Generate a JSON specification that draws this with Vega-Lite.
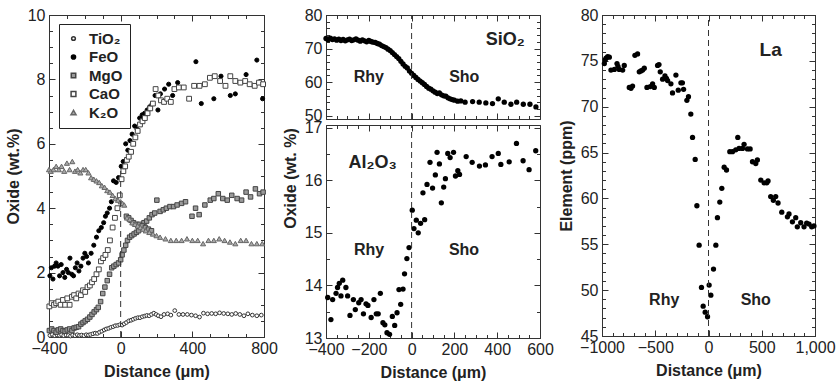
{
  "$schema": "https://vega.github.io/schema/vega-lite/v6.json",
  "background": "white",
  "padding": {"left": 4, "top": 6, "right": 0, "bottom": 0},
  "config": {
    "view": {"stroke": "#333", "strokeWidth": 1},
    "font": "Liberation Sans",
    "axis": {"labelFont": "Liberation Sans", "labelFontSize": 16, "labelColor": "#222", "titleFont": "Liberation Sans", "titleFontSize": 16, "titleFontWeight": "bold", "titleColor": "#222", "grid": false, "domain": false, "tickColor": "#333", "tickWidth": 1, "labelFlush": false, "labelOverlap": false}
  },
  "spacing": 3,
  "hconcat": [
    {
      "width": 215, "height": 322,
      "data": {"values": [
        {"oxide":"TiO₂","dist":-395,"val":0.05},{"oxide":"TiO₂","dist":-382,"val":0.08},{"oxide":"TiO₂","dist":-368,"val":0.04},{"oxide":"TiO₂","dist":-355,"val":0.06},{"oxide":"TiO₂","dist":-342,"val":0.05},{"oxide":"TiO₂","dist":-330,"val":0.07},{"oxide":"TiO₂","dist":-318,"val":0.04},{"oxide":"TiO₂","dist":-305,"val":0.06},{"oxide":"TiO₂","dist":-292,"val":0.05},{"oxide":"TiO₂","dist":-280,"val":0.03},{"oxide":"TiO₂","dist":-268,"val":0.06},{"oxide":"TiO₂","dist":-255,"val":0.04},{"oxide":"TiO₂","dist":-242,"val":0.07},{"oxide":"TiO₂","dist":-230,"val":0.05},{"oxide":"TiO₂","dist":-218,"val":0.06},{"oxide":"TiO₂","dist":-205,"val":0.04},{"oxide":"TiO₂","dist":-192,"val":0.07},{"oxide":"TiO₂","dist":-180,"val":0.06},{"oxide":"TiO₂","dist":-168,"val":0.08},{"oxide":"TiO₂","dist":-155,"val":0.1},{"oxide":"TiO₂","dist":-142,"val":0.12},{"oxide":"TiO₂","dist":-130,"val":0.11},{"oxide":"TiO₂","dist":-118,"val":0.15},{"oxide":"TiO₂","dist":-105,"val":0.18},{"oxide":"TiO₂","dist":-92,"val":0.22},{"oxide":"TiO₂","dist":-80,"val":0.25},{"oxide":"TiO₂","dist":-67,"val":0.27},{"oxide":"TiO₂","dist":-55,"val":0.3},{"oxide":"TiO₂","dist":-42,"val":0.32},{"oxide":"TiO₂","dist":-30,"val":0.35},{"oxide":"TiO₂","dist":-17,"val":0.36},{"oxide":"TiO₂","dist":-5,"val":0.38},{"oxide":"TiO₂","dist":8,"val":0.37},{"oxide":"TiO₂","dist":20,"val":0.41},{"oxide":"TiO₂","dist":32,"val":0.45},{"oxide":"TiO₂","dist":45,"val":0.5},{"oxide":"TiO₂","dist":58,"val":0.52},{"oxide":"TiO₂","dist":70,"val":0.55},{"oxide":"TiO₂","dist":83,"val":0.58},{"oxide":"TiO₂","dist":96,"val":0.6},{"oxide":"TiO₂","dist":108,"val":0.6},{"oxide":"TiO₂","dist":121,"val":0.63},{"oxide":"TiO₂","dist":134,"val":0.65},{"oxide":"TiO₂","dist":146,"val":0.67},{"oxide":"TiO₂","dist":159,"val":0.66},{"oxide":"TiO₂","dist":172,"val":0.7},{"oxide":"TiO₂","dist":185,"val":0.74},{"oxide":"TiO₂","dist":198,"val":0.7},{"oxide":"TiO₂","dist":210,"val":0.66},{"oxide":"TiO₂","dist":225,"val":0.63},{"oxide":"TiO₂","dist":242,"val":0.7},{"oxide":"TiO₂","dist":262,"val":0.72},{"oxide":"TiO₂","dist":280,"val":0.68},{"oxide":"TiO₂","dist":302,"val":0.82},{"oxide":"TiO₂","dist":325,"val":0.7},{"oxide":"TiO₂","dist":348,"val":0.7},{"oxide":"TiO₂","dist":372,"val":0.7},{"oxide":"TiO₂","dist":395,"val":0.68},{"oxide":"TiO₂","dist":418,"val":0.66},{"oxide":"TiO₂","dist":440,"val":0.62},{"oxide":"TiO₂","dist":462,"val":0.74},{"oxide":"TiO₂","dist":485,"val":0.72},{"oxide":"TiO₂","dist":508,"val":0.73},{"oxide":"TiO₂","dist":530,"val":0.72},{"oxide":"TiO₂","dist":552,"val":0.75},{"oxide":"TiO₂","dist":575,"val":0.73},{"oxide":"TiO₂","dist":598,"val":0.72},{"oxide":"TiO₂","dist":620,"val":0.7},{"oxide":"TiO₂","dist":642,"val":0.73},{"oxide":"TiO₂","dist":665,"val":0.7},{"oxide":"TiO₂","dist":688,"val":0.66},{"oxide":"TiO₂","dist":710,"val":0.72},{"oxide":"TiO₂","dist":735,"val":0.68},{"oxide":"TiO₂","dist":760,"val":0.66},{"oxide":"TiO₂","dist":785,"val":0.68},
        {"oxide":"FeO","dist":-395,"val":1.9},{"oxide":"FeO","dist":-387,"val":2.15},{"oxide":"FeO","dist":-378,"val":1.8},{"oxide":"FeO","dist":-369,"val":2.2},{"oxide":"FeO","dist":-360,"val":2.3},{"oxide":"FeO","dist":-350,"val":2.2},{"oxide":"FeO","dist":-341,"val":1.9},{"oxide":"FeO","dist":-332,"val":2.25},{"oxide":"FeO","dist":-322,"val":2.0},{"oxide":"FeO","dist":-312,"val":1.85},{"oxide":"FeO","dist":-302,"val":2.1},{"oxide":"FeO","dist":-292,"val":2.0},{"oxide":"FeO","dist":-283,"val":2.45},{"oxide":"FeO","dist":-273,"val":1.95},{"oxide":"FeO","dist":-263,"val":1.9},{"oxide":"FeO","dist":-253,"val":2.15},{"oxide":"FeO","dist":-243,"val":2.3},{"oxide":"FeO","dist":-233,"val":2.05},{"oxide":"FeO","dist":-222,"val":2.2},{"oxide":"FeO","dist":-210,"val":2.45},{"oxide":"FeO","dist":-200,"val":2.6},{"oxide":"FeO","dist":-190,"val":2.5},{"oxide":"FeO","dist":-180,"val":2.3},{"oxide":"FeO","dist":-165,"val":2.6},{"oxide":"FeO","dist":-150,"val":2.85},{"oxide":"FeO","dist":-135,"val":3.1},{"oxide":"FeO","dist":-122,"val":3.3},{"oxide":"FeO","dist":-108,"val":3.4},{"oxide":"FeO","dist":-95,"val":3.55},{"oxide":"FeO","dist":-85,"val":3.75},{"oxide":"FeO","dist":-75,"val":3.85},{"oxide":"FeO","dist":-62,"val":4.0},{"oxide":"FeO","dist":-52,"val":4.2},{"oxide":"FeO","dist":-40,"val":4.85},{"oxide":"FeO","dist":-25,"val":4.8},{"oxide":"FeO","dist":-12,"val":4.95},{"oxide":"FeO","dist":3,"val":5.3},{"oxide":"FeO","dist":14,"val":5.45},{"oxide":"FeO","dist":28,"val":6.0},{"oxide":"FeO","dist":40,"val":5.8},{"oxide":"FeO","dist":52,"val":6.1},{"oxide":"FeO","dist":64,"val":6.3},{"oxide":"FeO","dist":78,"val":6.55},{"oxide":"FeO","dist":92,"val":6.45},{"oxide":"FeO","dist":106,"val":6.8},{"oxide":"FeO","dist":120,"val":6.9},{"oxide":"FeO","dist":134,"val":6.95},{"oxide":"FeO","dist":148,"val":7.05},{"oxide":"FeO","dist":162,"val":7.15},{"oxide":"FeO","dist":176,"val":7.25},{"oxide":"FeO","dist":192,"val":7.5},{"oxide":"FeO","dist":208,"val":7.05},{"oxide":"FeO","dist":222,"val":7.55},{"oxide":"FeO","dist":245,"val":7.7},{"oxide":"FeO","dist":268,"val":7.85},{"oxide":"FeO","dist":290,"val":7.5},{"oxide":"FeO","dist":318,"val":7.9},{"oxide":"FeO","dist":420,"val":8.55},{"oxide":"FeO","dist":450,"val":7.25},{"oxide":"FeO","dist":520,"val":7.4},{"oxide":"FeO","dist":560,"val":8.1},{"oxide":"FeO","dist":612,"val":7.5},{"oxide":"FeO","dist":640,"val":7.55},{"oxide":"FeO","dist":700,"val":8.15},{"oxide":"FeO","dist":760,"val":8.6},{"oxide":"FeO","dist":792,"val":7.4},
        {"oxide":"MgO","dist":-398,"val":0.2},{"oxide":"MgO","dist":-385,"val":0.25},{"oxide":"MgO","dist":-372,"val":0.2},{"oxide":"MgO","dist":-360,"val":0.15},{"oxide":"MgO","dist":-348,"val":0.22},{"oxide":"MgO","dist":-335,"val":0.25},{"oxide":"MgO","dist":-322,"val":0.2},{"oxide":"MgO","dist":-310,"val":0.18},{"oxide":"MgO","dist":-298,"val":0.22},{"oxide":"MgO","dist":-285,"val":0.25},{"oxide":"MgO","dist":-272,"val":0.2},{"oxide":"MgO","dist":-260,"val":0.28},{"oxide":"MgO","dist":-248,"val":0.3},{"oxide":"MgO","dist":-235,"val":0.32},{"oxide":"MgO","dist":-222,"val":0.4},{"oxide":"MgO","dist":-210,"val":0.45},{"oxide":"MgO","dist":-198,"val":0.5},{"oxide":"MgO","dist":-185,"val":0.55},{"oxide":"MgO","dist":-172,"val":0.62},{"oxide":"MgO","dist":-160,"val":0.7},{"oxide":"MgO","dist":-148,"val":0.78},{"oxide":"MgO","dist":-135,"val":0.85},{"oxide":"MgO","dist":-125,"val":0.92},{"oxide":"MgO","dist":-112,"val":1.1},{"oxide":"MgO","dist":-100,"val":1.35},{"oxide":"MgO","dist":-88,"val":1.55},{"oxide":"MgO","dist":-75,"val":1.75},{"oxide":"MgO","dist":-62,"val":1.95},{"oxide":"MgO","dist":-50,"val":2.15},{"oxide":"MgO","dist":-38,"val":2.2},{"oxide":"MgO","dist":-25,"val":2.25},{"oxide":"MgO","dist":-12,"val":2.3},{"oxide":"MgO","dist":0,"val":2.4},{"oxide":"MgO","dist":8,"val":2.55},{"oxide":"MgO","dist":18,"val":2.7},{"oxide":"MgO","dist":28,"val":2.85},{"oxide":"MgO","dist":38,"val":3.0},{"oxide":"MgO","dist":50,"val":3.1},{"oxide":"MgO","dist":62,"val":3.15},{"oxide":"MgO","dist":75,"val":3.2},{"oxide":"MgO","dist":88,"val":3.25},{"oxide":"MgO","dist":100,"val":3.3},{"oxide":"MgO","dist":115,"val":3.45},{"oxide":"MgO","dist":130,"val":3.55},{"oxide":"MgO","dist":145,"val":3.6},{"oxide":"MgO","dist":160,"val":3.7},{"oxide":"MgO","dist":175,"val":3.8},{"oxide":"MgO","dist":190,"val":3.85},{"oxide":"MgO","dist":202,"val":4.25},{"oxide":"MgO","dist":220,"val":3.9},{"oxide":"MgO","dist":238,"val":3.95},{"oxide":"MgO","dist":255,"val":4.0},{"oxide":"MgO","dist":275,"val":4.05},{"oxide":"MgO","dist":295,"val":4.05},{"oxide":"MgO","dist":315,"val":4.1},{"oxide":"MgO","dist":340,"val":4.15},{"oxide":"MgO","dist":362,"val":4.2},{"oxide":"MgO","dist":398,"val":3.75},{"oxide":"MgO","dist":418,"val":4.0},{"oxide":"MgO","dist":438,"val":3.8},{"oxide":"MgO","dist":470,"val":4.1},{"oxide":"MgO","dist":500,"val":4.25},{"oxide":"MgO","dist":520,"val":4.3},{"oxide":"MgO","dist":545,"val":4.45},{"oxide":"MgO","dist":570,"val":4.3},{"oxide":"MgO","dist":595,"val":4.25},{"oxide":"MgO","dist":620,"val":4.4},{"oxide":"MgO","dist":650,"val":4.3},{"oxide":"MgO","dist":675,"val":4.25},{"oxide":"MgO","dist":700,"val":4.5},{"oxide":"MgO","dist":725,"val":4.35},{"oxide":"MgO","dist":752,"val":4.6},{"oxide":"MgO","dist":775,"val":4.45},{"oxide":"MgO","dist":795,"val":4.5},
        {"oxide":"MgO","dist":32,"val":3.75},{"oxide":"MgO","dist":45,"val":3.7},{"oxide":"MgO","dist":58,"val":3.62},{"oxide":"MgO","dist":72,"val":3.55},{"oxide":"MgO","dist":88,"val":3.5},{"oxide":"MgO","dist":105,"val":3.5},{"oxide":"MgO","dist":120,"val":3.45},{"oxide":"MgO","dist":138,"val":3.4},{"oxide":"MgO","dist":155,"val":3.35},{"oxide":"MgO","dist":172,"val":3.3},
        {"oxide":"CaO","dist":-398,"val":0.95},{"oxide":"CaO","dist":-385,"val":1.05},{"oxide":"CaO","dist":-372,"val":1.0},{"oxide":"CaO","dist":-360,"val":1.05},{"oxide":"CaO","dist":-348,"val":1.1},{"oxide":"CaO","dist":-335,"val":1.0},{"oxide":"CaO","dist":-322,"val":1.15},{"oxide":"CaO","dist":-310,"val":1.0},{"oxide":"CaO","dist":-298,"val":1.2},{"oxide":"CaO","dist":-285,"val":1.0},{"oxide":"CaO","dist":-272,"val":1.25},{"oxide":"CaO","dist":-260,"val":1.3},{"oxide":"CaO","dist":-248,"val":1.2},{"oxide":"CaO","dist":-235,"val":1.35},{"oxide":"CaO","dist":-222,"val":1.3},{"oxide":"CaO","dist":-210,"val":1.45},{"oxide":"CaO","dist":-198,"val":1.4},{"oxide":"CaO","dist":-185,"val":1.55},{"oxide":"CaO","dist":-172,"val":1.6},{"oxide":"CaO","dist":-160,"val":1.7},{"oxide":"CaO","dist":-148,"val":1.8},{"oxide":"CaO","dist":-135,"val":1.95},{"oxide":"CaO","dist":-122,"val":2.1},{"oxide":"CaO","dist":-110,"val":2.35},{"oxide":"CaO","dist":-98,"val":2.45},{"oxide":"CaO","dist":-85,"val":2.55},{"oxide":"CaO","dist":-72,"val":2.7},{"oxide":"CaO","dist":-60,"val":3.0},{"oxide":"CaO","dist":-45,"val":3.4},{"oxide":"CaO","dist":-32,"val":3.7},{"oxide":"CaO","dist":-18,"val":4.0},{"oxide":"CaO","dist":-5,"val":4.4},{"oxide":"CaO","dist":5,"val":4.9},{"oxide":"CaO","dist":15,"val":5.15},{"oxide":"CaO","dist":25,"val":5.3},{"oxide":"CaO","dist":35,"val":5.5},{"oxide":"CaO","dist":45,"val":5.6},{"oxide":"CaO","dist":58,"val":5.75},{"oxide":"CaO","dist":70,"val":6.0},{"oxide":"CaO","dist":82,"val":6.2},{"oxide":"CaO","dist":95,"val":6.4},{"oxide":"CaO","dist":108,"val":6.6},{"oxide":"CaO","dist":122,"val":6.7},{"oxide":"CaO","dist":135,"val":6.8},{"oxide":"CaO","dist":150,"val":6.95},{"oxide":"CaO","dist":165,"val":7.1},{"oxide":"CaO","dist":180,"val":7.25},{"oxide":"CaO","dist":195,"val":7.7},{"oxide":"CaO","dist":210,"val":7.5},{"oxide":"CaO","dist":225,"val":7.35},{"oxide":"CaO","dist":242,"val":7.3},{"oxide":"CaO","dist":260,"val":7.4},{"oxide":"CaO","dist":280,"val":7.3},{"oxide":"CaO","dist":300,"val":7.7},{"oxide":"CaO","dist":325,"val":7.75},{"oxide":"CaO","dist":352,"val":7.75},{"oxide":"CaO","dist":382,"val":7.4},{"oxide":"CaO","dist":410,"val":7.8},{"oxide":"CaO","dist":440,"val":7.8},{"oxide":"CaO","dist":470,"val":7.85},{"oxide":"CaO","dist":498,"val":8.05},{"oxide":"CaO","dist":525,"val":8.1},{"oxide":"CaO","dist":555,"val":7.95},{"oxide":"CaO","dist":585,"val":7.8},{"oxide":"CaO","dist":612,"val":8.1},{"oxide":"CaO","dist":640,"val":7.95},{"oxide":"CaO","dist":668,"val":7.9},{"oxide":"CaO","dist":695,"val":7.95},{"oxide":"CaO","dist":720,"val":7.85},{"oxide":"CaO","dist":748,"val":7.8},{"oxide":"CaO","dist":772,"val":7.9},{"oxide":"CaO","dist":795,"val":7.85},
        {"oxide":"K₂O","dist":-400,"val":5.2},{"oxide":"K₂O","dist":-390,"val":5.15},{"oxide":"K₂O","dist":-375,"val":5.2},{"oxide":"K₂O","dist":-360,"val":5.3},{"oxide":"K₂O","dist":-345,"val":5.2},{"oxide":"K₂O","dist":-330,"val":5.3},{"oxide":"K₂O","dist":-315,"val":5.15},{"oxide":"K₂O","dist":-300,"val":5.4},{"oxide":"K₂O","dist":-285,"val":5.2},{"oxide":"K₂O","dist":-270,"val":5.45},{"oxide":"K₂O","dist":-255,"val":5.15},{"oxide":"K₂O","dist":-240,"val":5.2},{"oxide":"K₂O","dist":-225,"val":5.1},{"oxide":"K₂O","dist":-210,"val":5.2},{"oxide":"K₂O","dist":-195,"val":5.2},{"oxide":"K₂O","dist":-180,"val":5.1},{"oxide":"K₂O","dist":-165,"val":4.95},{"oxide":"K₂O","dist":-150,"val":4.9},{"oxide":"K₂O","dist":-135,"val":4.85},{"oxide":"K₂O","dist":-120,"val":4.8},{"oxide":"K₂O","dist":-105,"val":4.7},{"oxide":"K₂O","dist":-90,"val":4.65},{"oxide":"K₂O","dist":-75,"val":4.55},{"oxide":"K₂O","dist":-60,"val":4.5},{"oxide":"K₂O","dist":-45,"val":4.4},{"oxide":"K₂O","dist":-30,"val":4.3},{"oxide":"K₂O","dist":-15,"val":4.25},{"oxide":"K₂O","dist":0,"val":4.2},{"oxide":"K₂O","dist":10,"val":4.15},{"oxide":"K₂O","dist":20,"val":4.1},{"oxide":"K₂O","dist":35,"val":3.7},{"oxide":"K₂O","dist":50,"val":3.65},{"oxide":"K₂O","dist":65,"val":3.55},{"oxide":"K₂O","dist":80,"val":3.5},{"oxide":"K₂O","dist":95,"val":3.45},{"oxide":"K₂O","dist":110,"val":3.4},{"oxide":"K₂O","dist":125,"val":3.35},{"oxide":"K₂O","dist":140,"val":3.3},{"oxide":"K₂O","dist":160,"val":3.25},{"oxide":"K₂O","dist":180,"val":3.2},{"oxide":"K₂O","dist":200,"val":3.15},{"oxide":"K₂O","dist":220,"val":3.1},{"oxide":"K₂O","dist":250,"val":3.05},{"oxide":"K₂O","dist":280,"val":3.0},{"oxide":"K₂O","dist":310,"val":3.0},{"oxide":"K₂O","dist":340,"val":3.0},{"oxide":"K₂O","dist":370,"val":3.05},{"oxide":"K₂O","dist":400,"val":3.0},{"oxide":"K₂O","dist":430,"val":3.0},{"oxide":"K₂O","dist":460,"val":2.9},{"oxide":"K₂O","dist":490,"val":3.0},{"oxide":"K₂O","dist":520,"val":3.0},{"oxide":"K₂O","dist":550,"val":3.05},{"oxide":"K₂O","dist":580,"val":3.0},{"oxide":"K₂O","dist":610,"val":2.95},{"oxide":"K₂O","dist":640,"val":2.9},{"oxide":"K₂O","dist":670,"val":3.0},{"oxide":"K₂O","dist":700,"val":3.0},{"oxide":"K₂O","dist":730,"val":2.9},{"oxide":"K₂O","dist":760,"val":2.9},{"oxide":"K₂O","dist":790,"val":2.9}
      ]},
      "layer": [
        {
          "mark": {"type": "point", "filled": true, "strokeWidth": 1, "opacity": 1},
          "encoding": {
            "x": {"field": "dist", "type": "quantitative", "scale": {"domain": [-400, 800], "nice": false, "zero": false}, "axis": {"orient": "bottom", "values": [-400, 0, 400, 800], "ticks": false, "title": "Distance (μm)", "labelPadding": 3, "titlePadding": 7}},
            "y": {"field": "val", "type": "quantitative", "scale": {"domain": [0, 10], "nice": false, "zero": false}, "axis": {"orient": "left", "values": [0, 2, 4, 6, 8, 10], "ticks": false, "title": "Oxide (wt.%)", "labelPadding": 4, "titlePadding": 6}},
            "shape": {"field": "oxide", "type": "nominal", "scale": {"domain": ["TiO₂", "FeO", "MgO", "CaO", "K₂O"], "range": ["circle", "circle", "square", "square", "triangle-up"]}, "legend": {"title": null, "orient": "none", "legendX": 10, "legendY": 9, "padding": 7, "strokeColor": "#222", "fillColor": "white", "labelFont": "Liberation Sans", "labelFontSize": 15, "labelFontWeight": "bold", "labelColor": "#222", "rowPadding": 2.5, "labelOffset": 8}},
            "fill": {"field": "oxide", "type": "nominal", "scale": {"domain": ["TiO₂", "FeO", "MgO", "CaO", "K₂O"], "range": ["white", "black", "#9a9a9a", "white", "#a8a8a8"]}, "legend": {"title": null, "orient": "none", "legendX": 10, "legendY": 9}},
            "stroke": {"field": "oxide", "type": "nominal", "scale": {"domain": ["TiO₂", "FeO", "MgO", "CaO", "K₂O"], "range": ["#333", "black", "#444", "#444", "#666"]}, "legend": {"title": null, "orient": "none", "legendX": 10, "legendY": 9}},
            "size": {"field": "oxide", "type": "nominal", "scale": {"domain": ["TiO₂", "FeO", "MgO", "CaO", "K₂O"], "range": [14, 26, 38, 38, 36]}, "legend": {"title": null, "orient": "none", "legendX": 10, "legendY": 9}}
          }
        },
        {
          "mark": {"type": "point", "opacity": 0},
          "encoding": {
            "x": {"field": "dist", "type": "quantitative", "axis": {"orient": "bottom", "values": [-400, 0, 400, 800], "labels": false, "tickSize": -6, "title": null}},
            "y": {"field": "val", "type": "quantitative", "axis": {"orient": "left", "values": [0, 2, 4, 6, 8, 10], "labels": false, "tickSize": -6, "title": null}}
          }
        },
        {
          "mark": {"type": "point", "opacity": 0},
          "encoding": {
            "x": {"field": "dist", "type": "quantitative", "axis": {"orient": "top", "values": [-400, 0, 400, 800], "labels": false, "tickSize": -6, "title": null}},
            "y": {"field": "val", "type": "quantitative", "axis": {"orient": "right", "values": [0, 2, 4, 6, 8, 10], "labels": false, "tickSize": -6, "title": null}}
          }
        },
        {
          "mark": {"type": "point", "opacity": 0},
          "encoding": {
            "x": {"field": "dist", "type": "quantitative", "axis": {"orient": "bottom", "values": [-400, -300, -200, -100, 0, 100, 200, 300, 400, 500, 600, 700, 800], "labels": false, "tickSize": -3.5, "title": null}},
            "y": {"field": "val", "type": "quantitative", "axis": {"orient": "left", "values": [0, 0.5, 1, 1.5, 2, 2.5, 3, 3.5, 4, 4.5, 5, 5.5, 6, 6.5, 7, 7.5, 8, 8.5, 9, 9.5, 10], "labels": false, "tickSize": -3.5, "title": null}}
          }
        },
        {
          "mark": {"type": "point", "opacity": 0},
          "encoding": {
            "x": {"field": "dist", "type": "quantitative", "axis": {"orient": "top", "values": [-400, -300, -200, -100, 0, 100, 200, 300, 400, 500, 600, 700, 800], "labels": false, "tickSize": -3.5, "title": null}},
            "y": {"field": "val", "type": "quantitative", "axis": {"orient": "right", "values": [0, 0.5, 1, 1.5, 2, 2.5, 3, 3.5, 4, 4.5, 5, 5.5, 6, 6.5, 7, 7.5, 8, 8.5, 9, 9.5, 10], "labels": false, "tickSize": -3.5, "title": null}}
          }
        },
        {
          "data": {"values": [{"dist": 0, "lo": 0, "hi": 5.2}]},
          "mark": {"type": "rule", "strokeDash": [6, 4], "color": "#333", "strokeWidth": 1},
          "encoding": {
            "x": {"field": "dist", "type": "quantitative", "axis": null},
            "y": {"field": "lo", "type": "quantitative", "axis": null},
            "y2": {"field": "hi"}
          }
        }
      ],
      "resolve": {"axis": {"x": "independent", "y": "independent"}}
    },
    {
      "spacing": 6,
      "bounds": "flush",
      "vconcat": [
        {
          "width": 214, "height": 104,
          "data": {"values": [
            {"dist":-400,"val":73.0},{"dist":-390,"val":72.6},{"dist":-380,"val":73.1},{"dist":-370,"val":72.7},{"dist":-360,"val":72.9},{"dist":-350,"val":72.5},{"dist":-340,"val":72.8},{"dist":-330,"val":72.4},{"dist":-320,"val":72.7},{"dist":-310,"val":72.3},{"dist":-300,"val":72.6},{"dist":-290,"val":72.8},{"dist":-280,"val":72.4},{"dist":-270,"val":72.6},{"dist":-260,"val":72.9},{"dist":-250,"val":72.5},{"dist":-240,"val":72.2},{"dist":-230,"val":72.6},{"dist":-220,"val":72.3},{"dist":-210,"val":72.0},{"dist":-200,"val":72.4},{"dist":-190,"val":72.1},{"dist":-180,"val":71.9},{"dist":-170,"val":71.8},{"dist":-160,"val":71.5},{"dist":-150,"val":71.3},{"dist":-140,"val":70.9},{"dist":-130,"val":70.6},{"dist":-120,"val":70.3},{"dist":-110,"val":69.8},{"dist":-100,"val":69.4},{"dist":-90,"val":68.8},{"dist":-80,"val":68.2},{"dist":-70,"val":67.6},{"dist":-60,"val":67.0},{"dist":-50,"val":66.2},{"dist":-40,"val":65.4},{"dist":-30,"val":64.7},{"dist":-20,"val":64.2},{"dist":-10,"val":63.3},{"dist":0,"val":62.6},{"dist":10,"val":62.0},{"dist":20,"val":61.4},{"dist":30,"val":60.8},{"dist":40,"val":60.3},{"dist":50,"val":59.8},{"dist":60,"val":59.3},{"dist":70,"val":58.7},{"dist":80,"val":58.2},{"dist":90,"val":57.9},{"dist":100,"val":57.4},{"dist":110,"val":57.0},{"dist":120,"val":56.6},{"dist":130,"val":56.8},{"dist":140,"val":56.2},{"dist":150,"val":55.9},{"dist":160,"val":55.8},{"dist":170,"val":55.3},{"dist":180,"val":55.0},{"dist":190,"val":54.8},{"dist":200,"val":54.6},{"dist":215,"val":54.3},{"dist":230,"val":54.4},{"dist":250,"val":54.0},{"dist":285,"val":54.2},{"dist":316,"val":54.0},{"dist":347,"val":53.8},{"dist":378,"val":53.6},{"dist":405,"val":55.0},{"dist":433,"val":54.0},{"dist":464,"val":53.4},{"dist":491,"val":54.0},{"dist":522,"val":53.4},{"dist":553,"val":53.4},{"dist":581,"val":52.6}
          ]},
          "layer": [
            {
              "mark": {"type": "circle", "color": "black", "size": 28, "opacity": 1},
              "encoding": {
                "x": {"field": "dist", "type": "quantitative", "scale": {"domain": [-400, 600], "nice": false, "zero": false}, "axis": {"orient": "bottom", "values": [-400, -200, 0, 200, 400, 600], "labels": false, "tickSize": -6, "title": null}},
                "y": {"field": "val", "type": "quantitative", "scale": {"domain": [49, 80], "nice": false, "zero": false}, "axis": {"orient": "left", "values": [50, 60, 70, 80], "ticks": false, "labelPadding": 4, "title": null}}
              }
            },
            {
              "mark": {"type": "point", "opacity": 0},
              "encoding": {
                "x": {"field": "dist", "type": "quantitative", "axis": {"orient": "bottom", "values": [-400, -350, -300, -250, -200, -150, -100, -50, 0, 50, 100, 150, 200, 250, 300, 350, 400, 450, 500, 550, 600], "labels": false, "tickSize": -3.5, "title": null}},
                "y": {"field": "val", "type": "quantitative", "axis": {"orient": "left", "values": [50, 60, 70, 80], "labels": false, "tickSize": -6, "title": null}}
              }
            },
            {
              "mark": {"type": "point", "opacity": 0},
              "encoding": {
                "x": {"field": "dist", "type": "quantitative", "axis": {"orient": "top", "values": [-400, -200, 0, 200, 400, 600], "labels": false, "tickSize": -6, "title": null}},
                "y": {"field": "val", "type": "quantitative", "axis": {"orient": "left", "values": [50, 52, 54, 56, 58, 60, 62, 64, 66, 68, 70, 72, 74, 76, 78, 80], "labels": false, "tickSize": -3.5, "title": null}}
              }
            },
            {
              "mark": {"type": "point", "opacity": 0},
              "encoding": {
                "x": {"field": "dist", "type": "quantitative", "axis": {"orient": "top", "values": [-400, -350, -300, -250, -200, -150, -100, -50, 0, 50, 100, 150, 200, 250, 300, 350, 400, 450, 500, 550, 600], "labels": false, "tickSize": -3.5, "title": null}},
                "y": {"field": "val", "type": "quantitative", "axis": {"orient": "right", "values": [50, 60, 70, 80], "labels": false, "tickSize": -6, "title": null}}
              }
            },
            {
              "mark": {"type": "point", "opacity": 0},
              "encoding": {
                "x": {"field": "dist", "type": "quantitative", "axis": null},
                "y": {"field": "val", "type": "quantitative", "axis": {"orient": "right", "values": [50, 52, 54, 56, 58, 60, 62, 64, 66, 68, 70, 72, 74, 76, 78, 80], "labels": false, "tickSize": -3.5, "title": null}}
              }
            },
            {
              "data": {"values": [{"dist": 0, "lo": 49, "hi": 80}]},
              "mark": {"type": "rule", "strokeDash": [6, 4], "color": "#333", "strokeWidth": 1},
              "encoding": {
                "x": {"field": "dist", "type": "quantitative", "axis": null},
                "y": {"field": "lo", "type": "quantitative", "axis": null},
                "y2": {"field": "hi"}
              }
            },
            {
              "data": {"values": [{"t": "Rhy", "dist": -200, "val": 61.6}, {"t": "Sho", "dist": 246, "val": 61.6}]},
              "mark": {"type": "text", "font": "Liberation Sans", "fontWeight": "bold", "fontSize": 16, "color": "#222"},
              "encoding": {
                "x": {"field": "dist", "type": "quantitative", "axis": null},
                "y": {"field": "val", "type": "quantitative", "axis": null},
                "text": {"field": "t"}
              }
            },
            {
              "data": {"values": [{"t": "SiO₂", "dist": 438, "val": 72.6}]},
              "mark": {"type": "text", "font": "Liberation Sans", "fontWeight": "bold", "fontSize": 18, "color": "#222"},
              "encoding": {
                "x": {"field": "dist", "type": "quantitative", "axis": null},
                "y": {"field": "val", "type": "quantitative", "axis": null},
                "text": {"field": "t"}
              }
            }
          ],
          "resolve": {"axis": {"x": "independent", "y": "independent"}}
        },
        {
          "width": 214, "height": 213,
          "data": {"values": [
            {"dist":-392,"val":13.77},{"dist":-377,"val":13.35},{"dist":-369,"val":13.73},{"dist":-353,"val":13.85},{"dist":-346,"val":13.96},{"dist":-338,"val":14.04},{"dist":-322,"val":14.1},{"dist":-330,"val":13.8},{"dist":-307,"val":13.96},{"dist":-299,"val":13.8},{"dist":-288,"val":13.43},{"dist":-272,"val":13.73},{"dist":-263,"val":13.54},{"dist":-247,"val":13.67},{"dist":-236,"val":13.73},{"dist":-225,"val":13.46},{"dist":-213,"val":13.65},{"dist":-204,"val":13.62},{"dist":-189,"val":13.39},{"dist":-176,"val":13.73},{"dist":-165,"val":13.46},{"dist":-156,"val":13.46},{"dist":-146,"val":13.85},{"dist":-134,"val":13.29},{"dist":-125,"val":13.25},{"dist":-115,"val":13.1},{"dist":-103,"val":13.07},{"dist":-90,"val":13.41},{"dist":-79,"val":13.24},{"dist":-68,"val":13.48},{"dist":-59,"val":13.92},{"dist":-51,"val":13.64},{"dist":-40,"val":13.93},{"dist":-33,"val":14.22},{"dist":-22,"val":14.51},{"dist":-12,"val":14.72},{"dist":3,"val":15.43},{"dist":11,"val":15.08},{"dist":22,"val":15.24},{"dist":31,"val":15.0},{"dist":42,"val":15.18},{"dist":61,"val":15.25},{"dist":53,"val":15.76},{"dist":139,"val":15.57},{"dist":72,"val":15.92},{"dist":98,"val":15.85},{"dist":111,"val":16.1},{"dist":86,"val":16.34},{"dist":119,"val":16.53},{"dist":130,"val":16.31},{"dist":150,"val":15.87},{"dist":158,"val":16.03},{"dist":169,"val":16.51},{"dist":180,"val":16.43},{"dist":196,"val":16.53},{"dist":205,"val":16.08},{"dist":216,"val":16.18},{"dist":224,"val":16.11},{"dist":255,"val":16.45},{"dist":283,"val":16.34},{"dist":317,"val":16.27},{"dist":345,"val":16.29},{"dist":376,"val":16.45},{"dist":405,"val":16.51},{"dist":417,"val":16.3},{"dist":456,"val":16.35},{"dist":490,"val":16.7},{"dist":521,"val":16.37},{"dist":549,"val":16.2},{"dist":580,"val":16.56}
          ]},
          "layer": [
            {
              "mark": {"type": "circle", "color": "black", "size": 28, "opacity": 1},
              "encoding": {
                "x": {"field": "dist", "type": "quantitative", "scale": {"domain": [-400, 600], "nice": false, "zero": false}, "axis": {"orient": "bottom", "values": [-400, -200, 0, 200, 400, 600], "ticks": false, "title": "Distance (μm)", "labelPadding": 3, "titlePadding": 7}},
                "y": {"field": "val", "type": "quantitative", "scale": {"domain": [13, 17.05], "nice": false, "zero": false}, "axis": {"orient": "left", "values": [13, 14, 15, 16, 17], "ticks": false, "labelPadding": 4, "title": "Oxide (wt. %)", "titlePadding": 6, "titleY": 53}}
              }
            },
            {
              "mark": {"type": "point", "opacity": 0},
              "encoding": {
                "x": {"field": "dist", "type": "quantitative", "axis": {"orient": "bottom", "values": [-400, -200, 0, 200, 400, 600], "labels": false, "tickSize": -6, "title": null}},
                "y": {"field": "val", "type": "quantitative", "axis": {"orient": "left", "values": [13, 14, 15, 16, 17], "labels": false, "tickSize": -6, "title": null}}
              }
            },
            {
              "mark": {"type": "point", "opacity": 0},
              "encoding": {
                "x": {"field": "dist", "type": "quantitative", "axis": {"orient": "top", "values": [-400, -200, 0, 200, 400, 600], "labels": false, "tickSize": -6, "title": null}},
                "y": {"field": "val", "type": "quantitative", "axis": {"orient": "right", "values": [13, 14, 15, 16, 17], "labels": false, "tickSize": -6, "title": null}}
              }
            },
            {
              "mark": {"type": "point", "opacity": 0},
              "encoding": {
                "x": {"field": "dist", "type": "quantitative", "axis": {"orient": "bottom", "values": [-400, -350, -300, -250, -200, -150, -100, -50, 0, 50, 100, 150, 200, 250, 300, 350, 400, 450, 500, 550, 600], "labels": false, "tickSize": -3.5, "title": null}},
                "y": {"field": "val", "type": "quantitative", "axis": {"orient": "left", "values": [13, 13.5, 14, 14.5, 15, 15.5, 16, 16.5, 17], "labels": false, "tickSize": -3.5, "title": null}}
              }
            },
            {
              "mark": {"type": "point", "opacity": 0},
              "encoding": {
                "x": {"field": "dist", "type": "quantitative", "axis": {"orient": "top", "values": [-400, -350, -300, -250, -200, -150, -100, -50, 0, 50, 100, 150, 200, 250, 300, 350, 400, 450, 500, 550, 600], "labels": false, "tickSize": -3.5, "title": null}},
                "y": {"field": "val", "type": "quantitative", "axis": {"orient": "right", "values": [13, 13.5, 14, 14.5, 15, 15.5, 16, 16.5, 17], "labels": false, "tickSize": -3.5, "title": null}}
              }
            },
            {
              "data": {"values": [{"dist": 0, "lo": 13, "hi": 17.05}]},
              "mark": {"type": "rule", "strokeDash": [6, 4], "color": "#333", "strokeWidth": 1},
              "encoding": {
                "x": {"field": "dist", "type": "quantitative", "axis": null},
                "y": {"field": "lo", "type": "quantitative", "axis": null},
                "y2": {"field": "hi"}
              }
            },
            {
              "data": {"values": [{"t": "Rhy", "dist": -199, "val": 14.68}, {"t": "Sho", "dist": 245, "val": 14.68}]},
              "mark": {"type": "text", "font": "Liberation Sans", "fontWeight": "bold", "fontSize": 16, "color": "#222"},
              "encoding": {
                "x": {"field": "dist", "type": "quantitative", "axis": null},
                "y": {"field": "val", "type": "quantitative", "axis": null},
                "text": {"field": "t"}
              }
            },
            {
              "data": {"values": [{"t": "Al₂O₃", "dist": -182, "val": 16.32}]},
              "mark": {"type": "text", "font": "Liberation Sans", "fontWeight": "bold", "fontSize": 18, "color": "#222"},
              "encoding": {
                "x": {"field": "dist", "type": "quantitative", "axis": null},
                "y": {"field": "val", "type": "quantitative", "axis": null},
                "text": {"field": "t"}
              }
            }
          ],
          "resolve": {"axis": {"x": "independent", "y": "independent"}}
        }
      ]
    },
    {
      "width": 213, "height": 321,
      "data": {"values": [
        {"dist":-978,"val":74.7},{"dist":-962,"val":75.3},{"dist":-947,"val":75.45},{"dist":-931,"val":75.4},{"dist":-970,"val":75.1},{"dist":-916,"val":74.0},{"dist":-884,"val":74.07},{"dist":-859,"val":74.7},{"dist":-850,"val":74.4},{"dist":-838,"val":74.07},{"dist":-806,"val":74.0},{"dist":-791,"val":74.5},{"dist":-744,"val":72.1},{"dist":-713,"val":72.25},{"dist":-728,"val":72.0},{"dist":-691,"val":75.6},{"dist":-666,"val":75.75},{"dist":-650,"val":73.8},{"dist":-619,"val":74.0},{"dist":-603,"val":74.2},{"dist":-635,"val":73.9},{"dist":-578,"val":72.1},{"dist":-547,"val":72.2},{"dist":-525,"val":72.5},{"dist":-509,"val":72.1},{"dist":-478,"val":74.5},{"dist":-465,"val":74.6},{"dist":-453,"val":73.8},{"dist":-431,"val":73.0},{"dist":-409,"val":73.35},{"dist":-395,"val":73.1},{"dist":-384,"val":72.85},{"dist":-353,"val":72.5},{"dist":-338,"val":71.5},{"dist":-306,"val":73.45},{"dist":-284,"val":71.8},{"dist":-259,"val":72.6},{"dist":-245,"val":72.6},{"dist":-234,"val":71.9},{"dist":-203,"val":70.7},{"dist":-188,"val":71.1},{"dist":-166,"val":69.2},{"dist":-150,"val":66.65},{"dist":-125,"val":64.25},{"dist":-109,"val":59.2},{"dist":-88,"val":54.9},{"dist":-66,"val":50.3},{"dist":-50,"val":48.25},{"dist":-31,"val":47.6},{"dist":-9,"val":47.1},{"dist":6,"val":50.55},{"dist":22,"val":49.45},{"dist":47,"val":52.3},{"dist":69,"val":54.9},{"dist":84,"val":57.9},{"dist":106,"val":59.6},{"dist":125,"val":61.1},{"dist":147,"val":63.4},{"dist":169,"val":63.1},{"dist":200,"val":65.1},{"dist":225,"val":65.1},{"dist":256,"val":65.3},{"dist":275,"val":66.65},{"dist":287,"val":65.45},{"dist":319,"val":65.45},{"dist":334,"val":65.9},{"dist":366,"val":65.4},{"dist":391,"val":65.4},{"dist":413,"val":64.0},{"dist":444,"val":63.8},{"dist":459,"val":64.2},{"dist":491,"val":62.0},{"dist":522,"val":61.7},{"dist":547,"val":61.7},{"dist":559,"val":61.9},{"dist":584,"val":60.2},{"dist":609,"val":59.8},{"dist":631,"val":60.2},{"dist":653,"val":59.5},{"dist":688,"val":58.5},{"dist":741,"val":58.0},{"dist":756,"val":58.3},{"dist":788,"val":57.45},{"dist":819,"val":57.9},{"dist":834,"val":56.9},{"dist":866,"val":57.35},{"dist":897,"val":56.9},{"dist":922,"val":57.3},{"dist":944,"val":57.2},{"dist":969,"val":56.9},{"dist":990,"val":57.0}
      ]},
      "layer": [
        {
          "mark": {"type": "circle", "color": "black", "size": 28, "opacity": 1},
          "encoding": {
            "x": {"field": "dist", "type": "quantitative", "scale": {"domain": [-1000, 1000], "nice": false, "zero": false}, "axis": {"orient": "bottom", "values": [-1000, -500, 0, 500, 1000], "ticks": false, "title": "Distance (μm)", "labelPadding": 3, "titlePadding": 7, "labelExpr": "datum.value == 1000 ? '1,000' : format(datum.value, 'd')"}},
            "y": {"field": "val", "type": "quantitative", "scale": {"domain": [45, 80], "nice": false, "zero": false}, "axis": {"orient": "left", "values": [45, 50, 55, 60, 65, 70, 75, 80], "ticks": false, "title": "Element (ppm)", "labelPadding": 4, "titlePadding": 6}}
          }
        },
        {
          "mark": {"type": "point", "opacity": 0},
          "encoding": {
            "x": {"field": "dist", "type": "quantitative", "axis": {"orient": "bottom", "values": [-1000, -500, 0, 500, 1000], "labels": false, "tickSize": -6, "title": null}},
            "y": {"field": "val", "type": "quantitative", "axis": {"orient": "left", "values": [45, 50, 55, 60, 65, 70, 75, 80], "labels": false, "tickSize": -6, "title": null}}
          }
        },
        {
          "mark": {"type": "point", "opacity": 0},
          "encoding": {
            "x": {"field": "dist", "type": "quantitative", "axis": {"orient": "top", "values": [-1000, -500, 0, 500, 1000], "labels": false, "tickSize": -6, "title": null}},
            "y": {"field": "val", "type": "quantitative", "axis": {"orient": "right", "values": [45, 50, 55, 60, 65, 70, 75, 80], "labels": false, "tickSize": -6, "title": null}}
          }
        },
        {
          "mark": {"type": "point", "opacity": 0},
          "encoding": {
            "x": {"field": "dist", "type": "quantitative", "axis": {"orient": "bottom", "values": [-1000, -900, -800, -700, -600, -500, -400, -300, -200, -100, 0, 100, 200, 300, 400, 500, 600, 700, 800, 900, 1000], "labels": false, "tickSize": -3.5, "title": null}},
            "y": {"field": "val", "type": "quantitative", "axis": {"orient": "left", "values": [45, 46, 47, 48, 49, 50, 51, 52, 53, 54, 55, 56, 57, 58, 59, 60, 61, 62, 63, 64, 65, 66, 67, 68, 69, 70, 71, 72, 73, 74, 75, 76, 77, 78, 79, 80], "labels": false, "tickSize": -3.5, "title": null}}
          }
        },
        {
          "mark": {"type": "point", "opacity": 0},
          "encoding": {
            "x": {"field": "dist", "type": "quantitative", "axis": {"orient": "top", "values": [-1000, -900, -800, -700, -600, -500, -400, -300, -200, -100, 0, 100, 200, 300, 400, 500, 600, 700, 800, 900, 1000], "labels": false, "tickSize": -3.5, "title": null}},
            "y": {"field": "val", "type": "quantitative", "axis": {"orient": "right", "values": [45, 46, 47, 48, 49, 50, 51, 52, 53, 54, 55, 56, 57, 58, 59, 60, 61, 62, 63, 64, 65, 66, 67, 68, 69, 70, 71, 72, 73, 74, 75, 76, 77, 78, 79, 80], "labels": false, "tickSize": -3.5, "title": null}}
          }
        },
        {
          "data": {"values": [{"dist": 0, "lo": 45, "hi": 79.5}]},
          "mark": {"type": "rule", "strokeDash": [6, 4], "color": "#333", "strokeWidth": 1},
          "encoding": {
            "x": {"field": "dist", "type": "quantitative", "axis": null},
            "y": {"field": "lo", "type": "quantitative", "axis": null},
            "y2": {"field": "hi"}
          }
        },
        {
          "data": {"values": [{"t": "Rhy", "dist": -416, "val": 48.9}, {"t": "Sho", "dist": 444, "val": 48.9}]},
          "mark": {"type": "text", "font": "Liberation Sans", "fontWeight": "bold", "fontSize": 16, "color": "#222"},
          "encoding": {
            "x": {"field": "dist", "type": "quantitative", "axis": null},
            "y": {"field": "val", "type": "quantitative", "axis": null},
            "text": {"field": "t"}
          }
        },
        {
          "data": {"values": [{"t": "La", "dist": 584, "val": 76.2}]},
          "mark": {"type": "text", "font": "Liberation Sans", "fontWeight": "bold", "fontSize": 19, "color": "#222"},
          "encoding": {
            "x": {"field": "dist", "type": "quantitative", "axis": null},
            "y": {"field": "val", "type": "quantitative", "axis": null},
            "text": {"field": "t"}
          }
        }
      ],
      "resolve": {"axis": {"x": "independent", "y": "independent"}}
    }
  ]
}
